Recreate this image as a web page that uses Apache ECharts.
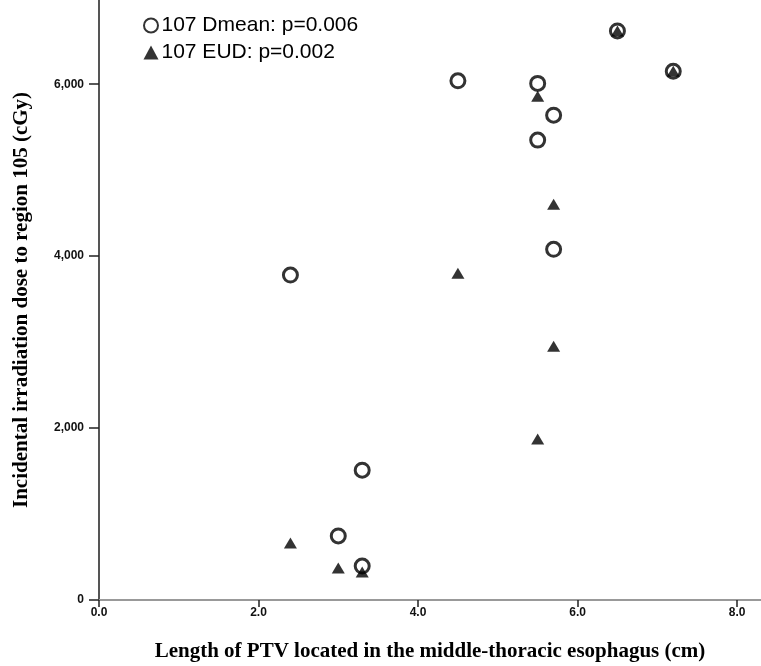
<!DOCTYPE html>
<html>
<head>
<meta charset="utf-8">
<script src="https://cdn.jsdelivr.net/npm/echarts@6/dist/echarts.min.js"></script>
<style>
  html, body { margin: 0; padding: 0; background: #fff; }
  #chart { width: 761px; height: 666px; }
</style>
</head>
<body>
<div id="chart"></div>
<script>
// 107 Dmean (hollow circles)
var dmeanX = [2.4, 3.0, 3.3, 3.3, 4.5, 5.5, 5.5, 5.7, 5.7, 6.5, 7.2];
var dmeanY = [3780, 745, 1510, 395, 6040, 6010, 5350, 5640, 4080, 6620, 6150];
// 107 EUD (filled triangles)
var eudX = [2.4, 3.0, 3.3, 4.5, 5.5, 5.7, 5.7, 5.5, 6.5, 7.2];
var eudY = [663, 372, 326, 3800, 5860, 4605, 2953, 1872, 6620, 6150];
// tick labels
var xTicks = [0, 2, 4, 6, 8];
var yTicks = [0, 2000, 4000, 6000];

var names = ['107 Dmean: p=0.006', '107 EUD: p=0.002'];

function pairs(xs, ys) {
  var out = [];
  for (var i = 0; i < xs.length; i++) {
    out.push([xs[i], ys[i]]);
  }
  return out;
}

var chart = echarts.init(document.getElementById('chart'));

var option = {
  animation: false,
  backgroundColor: '#fff',
  grid: {
    left: 99,
    right: 0,
    top: 0,
    bottom: 66,
    outerBoundsMode: 'none',
    containLabel: false
  },
  legend: {
    orient: 'vertical',
    left: 138,
    top: 10,
    itemWidth: 15,
    itemHeight: 14,
    itemGap: 6,
    data: [
      { name: names[0], icon: 'circle' },
      { name: names[1], icon: 'triangle' }
    ],
    textStyle: {
      fontFamily: 'Liberation Sans',
      fontSize: 21,
      color: '#000',
      padding: [0, 0, 0, -2]
    }
  },
  xAxis: {
    type: 'value',
    min: 0,
    max: 8.3,
    interval: 2,
    name: 'Length of PTV located in the middle-thoracic esophagus (cm)',
    nameLocation: 'middle',
    nameGap: 41,
    nameTextStyle: {
      fontFamily: 'Liberation Serif',
      fontWeight: 'bold',
      fontSize: 21,
      color: '#000'
    },
    splitLine: { show: false },
    axisLine: { show: true, lineStyle: { color: '#999', width: 2 } },
    axisTick: {
      show: true,
      length: 7,
      customValues: xTicks,
      lineStyle: { color: '#222', width: 1.5 }
    },
    axisLabel: {
      customValues: xTicks,
      margin: 7,
      fontFamily: 'Liberation Sans',
      fontWeight: 'bold',
      fontSize: 12,
      color: '#111',
      formatter: function (v) { return v.toFixed(1); }
    }
  },
  yAxis: {
    type: 'value',
    min: 0,
    max: 6980,
    interval: 2000,
    name: 'Incidental irradiation dose to region 105 (cGy)',
    nameLocation: 'middle',
    nameGap: 67,
    nameTextStyle: {
      fontFamily: 'Liberation Serif',
      fontWeight: 'bold',
      fontSize: 21,
      color: '#000'
    },
    splitLine: { show: false },
    axisLine: { show: true, lineStyle: { color: '#555', width: 2 } },
    axisTick: {
      show: true,
      length: 10,
      customValues: yTicks,
      lineStyle: { color: '#222', width: 1.5 }
    },
    axisLabel: {
      customValues: yTicks,
      margin: 15,
      fontFamily: 'Liberation Sans',
      fontWeight: 'bold',
      fontSize: 12,
      color: '#111',
      formatter: function (v) { return v.toLocaleString('en-US'); }
    }
  },
  series: [
    {
      name: names[0],
      type: 'scatter',
      z: 3,
      symbol: 'circle',
      symbolSize: 14,
      itemStyle: {
        color: 'rgba(0,0,0,0)',
        borderColor: '#000',
        borderWidth: 3
      },
      data: pairs(dmeanX, dmeanY)
    },
    {
      name: names[1],
      type: 'scatter',
      z: 2,
      symbol: 'triangle',
      symbolSize: [13, 11],
      itemStyle: {
        color: '#000'
      },
      data: pairs(eudX, eudY)
    }
  ]
};

chart.setOption(option);
</script>
</body>
</html>
